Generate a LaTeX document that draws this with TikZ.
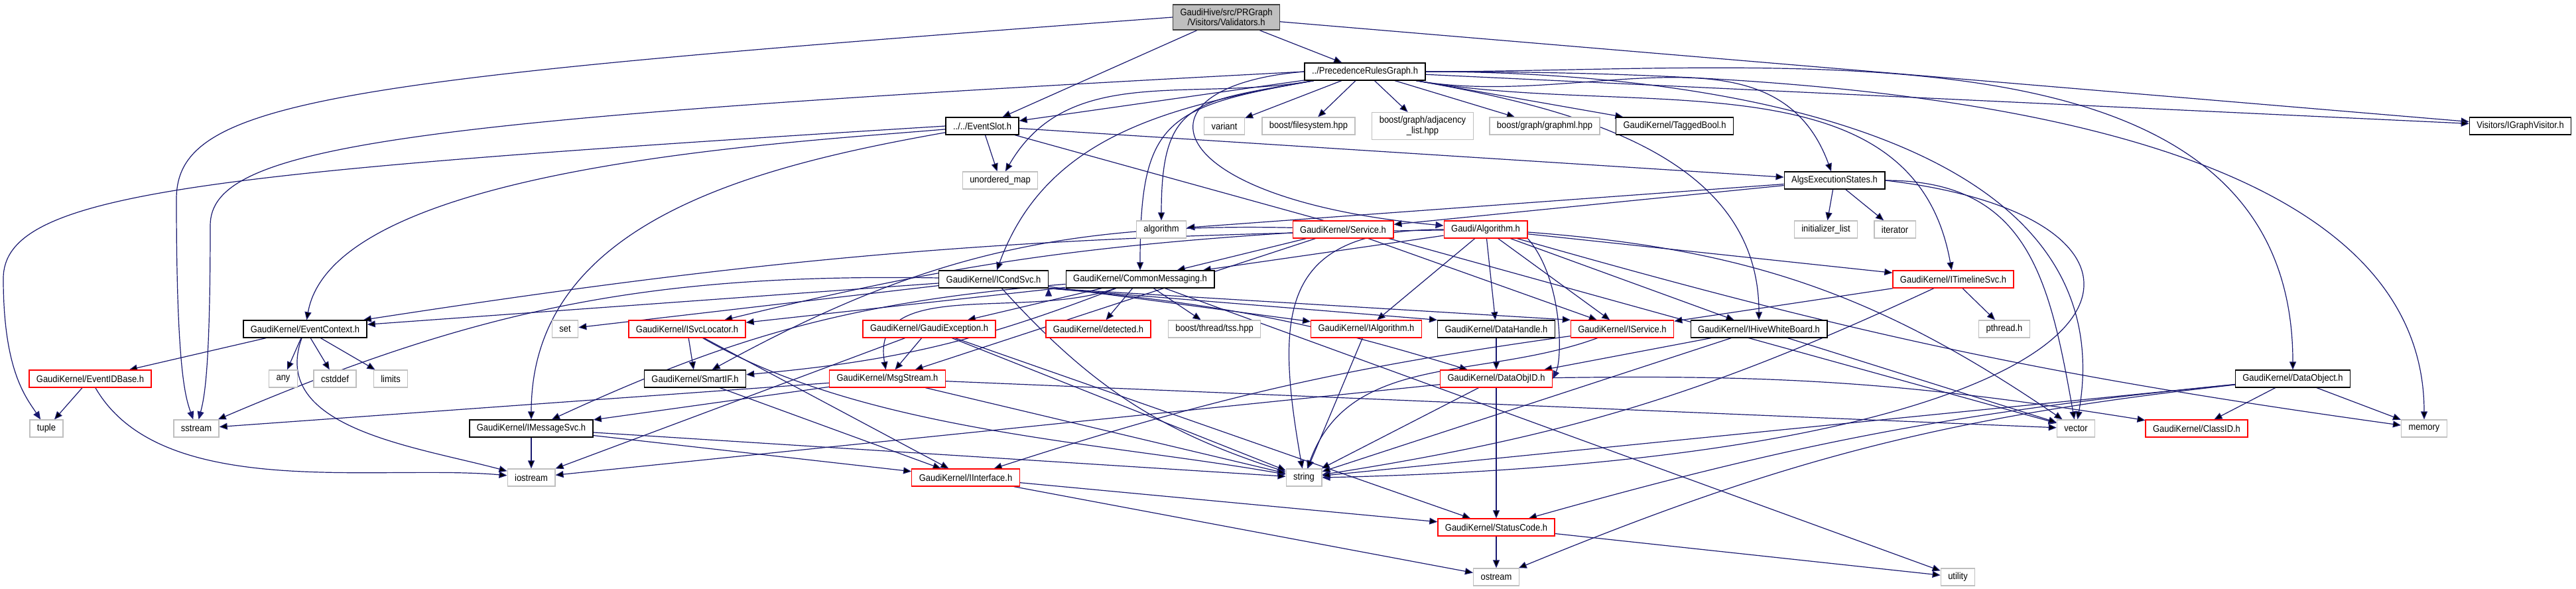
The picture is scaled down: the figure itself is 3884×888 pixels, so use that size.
\documentclass[tikz,border=0pt]{standalone}
\usepackage{fontspec}
\newfontfamily\dotfont[FakeStretch=0.9]{Liberation Sans}
\usetikzlibrary{arrows.meta,backgrounds}
\definecolor{depblue}{HTML}{191970}
\definecolor{sysgray}{HTML}{BFBFBF}

\begin{document}
\begin{tikzpicture}[x=0.5pt, y=0.5pt,
		hdr/.style={rectangle, draw, fill=white, line width=0.65pt, minimum height=13pt, inner xsep=5.5pt, inner ysep=1pt, align=center, font=\dotfont\fontsize{7.2}{7.8}\selectfont},
		doc/.style={hdr, draw=black},
		trunc/.style={hdr, draw=red},
		sys/.style={hdr, draw=sysgray},
		dep/.style={draw=depblue, line width=0.6pt, -{Triangle[length=6pt,width=5pt]}}]
	\useasboundingbox (0,0) rectangle (3884,-888);
	\node (val)[doc, fill=sysgray, draw=black!75, inner ysep=3pt] at (1849,-26) {GaudiHive/src/PRGraph\\/Visitors/Validators.h};
	\node (prg)[doc] at (2058,-108) {../PrecedenceRulesGraph.h};
	\node (evslot)[doc] at (1481,-190) {../../EventSlot.h};
	\node (variant)[sys] at (1846,-190) {variant};
	\node (bfs)[sys] at (1973,-190) {boost/filesystem.hpp};
	\node (badj)[sys, inner ysep=3pt] at (2145,-190) {boost/graph/adjacency\\\_list.hpp};
	\node (bgml)[sys] at (2329,-190) {boost/graph/graphml.hpp};
	\node (tagged)[doc] at (2525,-190) {GaudiKernel/TaggedBool.h};
	\node (igv)[doc] at (3800,-190) {Visitors/IGraphVisitor.h};
	\node (umap)[sys] at (1508,-272) {unordered\_map};
	\node (aes)[doc] at (2766,-272) {AlgsExecutionStates.h};
	\node (algo)[sys] at (1751,-346) {algorithm};
	\node (service)[trunc] at (2025,-346) {GaudiKernel/Service.h};
	\node (galg)[trunc] at (2240,-346) {Gaudi/Algorithm.h};
	\node (initl)[sys] at (2753,-346) {initializer\_list};
	\node (iter)[sys] at (2857,-346) {iterator};
	\node (condsvc)[doc] at (1498,-421) {GaudiKernel/ICondSvc.h};
	\node (cmsg)[doc] at (1719,-421) {GaudiKernel/CommonMessaging.h};
	\node (timeline)[trunc] at (2945,-421) {GaudiKernel/ITimelineSvc.h};
	\node (evctx)[doc] at (460,-496) {GaudiKernel/EventContext.h};
	\node (set)[sys] at (852,-496) {set};
	\node (svcloc)[trunc] at (1036,-496) {GaudiKernel/ISvcLocator.h};
	\node (gexc)[trunc] at (1401,-496) {GaudiKernel/GaudiException.h};
	\node (detected)[trunc] at (1656,-496) {GaudiKernel/detected.h};
	\node (tss)[sys] at (1831,-496) {boost/thread/tss.hpp};
	\node (ialg)[trunc] at (2060,-496) {GaudiKernel/IAlgorithm.h};
	\node (dhandle)[doc] at (2256,-496) {GaudiKernel/DataHandle.h};
	\node (iservice)[trunc] at (2446,-496) {GaudiKernel/IService.h};
	\node (hivewb)[doc] at (2652,-496) {GaudiKernel/IHiveWhiteBoard.h};
	\node (pthread)[sys] at (3022,-496) {pthread.h};
	\node (evid)[trunc] at (136,-571) {GaudiKernel/EventIDBase.h};
	\node (any)[sys] at (427,-571) {any};
	\node (cstddef)[sys] at (505,-571) {cstddef};
	\node (limits)[sys] at (589,-571) {limits};
	\node (smartif)[doc] at (1048,-571) {GaudiKernel/SmartIF.h};
	\node (msgstream)[trunc] at (1338,-571) {GaudiKernel/MsgStream.h};
	\node (dobjid)[trunc] at (2256,-571) {GaudiKernel/DataObjID.h};
	\node (dobj)[doc] at (3457,-571) {GaudiKernel/DataObject.h};
	\node (tuple)[sys] at (70,-646) {tuple};
	\node (sstream)[sys] at (296,-646) {sstream};
	\node (imsgsvc)[doc] at (801,-646) {GaudiKernel/IMessageSvc.h};
	\node (vector)[sys] at (3130,-646) {vector};
	\node (classid)[trunc] at (3312,-646) {GaudiKernel/ClassID.h};
	\node (memory)[sys] at (3655,-646) {memory};
	\node (iostream)[sys] at (801,-720) {iostream};
	\node (iintf)[trunc] at (1456,-720) {GaudiKernel/IInterface.h};
	\node (string)[sys] at (1966,-720) {string};
	\node (status)[trunc] at (2256,-795) {GaudiKernel/StatusCode.h};
	\node (ostream)[sys] at (2256,-870) {ostream};
	\node (utility)[sys] at (2952,-870) {utility};
	\begin{scope}[on background layer]
	\fill [white] (0,0) rectangle (3884,-888);
	\draw [dep] (val) edge (prg) edge (evslot) edge (igv);
	\draw [dep] (val.west) .. controls (500,-120) and (266,-150) .. (266,-300) .. controls (266,-560) and (280,-600) .. (sstream);
	\draw [dep] (prg) edge (evslot) edge (igv) edge (variant) edge (bfs) edge (badj) edge (bgml) edge (tagged)
		edge [out=190, in=60] (umap) edge [out=190, in=90, looseness=1.5] (algo) edge [out=190, in=90, looseness=1.5] (cmsg)
		edge [out=190, in=70] (condsvc) edge [out=-10, in=110] (aes) edge [out=-10, in=100] (timeline)
		edge [out=-10, in=90] (hivewb) edge [out=0, in=90] (dobj) edge [out=0, in=90, looseness=0.8] (memory)
		edge [out=0, in=80] (vector);
	\draw [dep] (prg.west) .. controls (600,-180) and (317,-220) .. (317,-340) .. controls (317,-560) and (308,-600) .. (sstream);
	\draw [dep] (prg.west) .. controls (1700,-130) and (1740,-300) .. (galg);
	\draw [dep] (evslot) edge (aes) edge (umap) edge (vector) edge [out=185, in=80, looseness=0.6] (evctx)
		edge [out=190, in=90] (imsgsvc);
	\draw [dep] (evslot.west) .. controls (300,-260) and (5,-290) .. (5,-420) .. controls (5,-560) and (40,-600) .. (tuple);
	\draw [dep] (aes) edge (initl) edge (iter) edge (algo) edge (service) edge [out=0, in=100, looseness=1.2] (vector);
	\draw [dep] (aes.east) .. controls (3350,-330) and (3300,-690) .. (string.east);
	\draw [dep] (service) edge (cmsg) edge (iservice) edge [bend right=5] (svcloc) edge [bend right=15] (smartif) edge (msgstream);
	\draw [dep] (galg) edge (cmsg) edge (ialg) edge (dhandle) edge (iservice) edge (hivewb) edge (timeline)
		edge [bend right=4] (memory) edge [bend left=15] (vector) edge [bend right=4] (evctx) edge [out=180, in=100, looseness=1.5] (string);
	\draw [dep] (galg.south east) .. controls (2356,-420) and (2356,-540) .. (dobjid.east);
	\draw [dep] (timeline) edge (iservice) edge (pthread) edge [bend left=8] (string);
	\draw [dep] (cmsg) edge (gexc) edge [bend right=10] (imsgsvc) edge (svcloc) edge [out=200, in=100] (msgstream)
		edge [bend left=8] (smartif) edge (detected) edge (tss) edge (utility);
	\draw [dep] (condsvc) edge (evctx) edge (set) edge [bend right=12] (sstream) edge (ialg) edge [bend right=15] (string);
	\draw [dep] (condsvc.south east) edge (dhandle.north west) edge (iservice.north west) edge [bend left=6] (dobjid);
	\draw [dep] (evctx) edge (evid) edge (any) edge (cstddef) edge (limits) edge [out=-110, in=165] (iostream);
	\draw [dep] (evid) edge (tuple) edge [out=-60, in=175, looseness=0.8] (iostream);
	\draw [dep] (svcloc) edge (smartif) edge (iintf) edge [out=-30, in=170, looseness=0.8] (string);
	\draw [dep] (gexc) edge (msgstream) edge (string) edge (status) edge (iostream);
	\draw [dep] (smartif) edge (iintf);
	\draw [dep] (msgstream) edge (imsgsvc) edge (sstream) edge (string) edge (vector);
	\draw [dep] (imsgsvc) edge (iostream) edge (iintf) edge (string);
	\draw [dep] (iintf) edge (status) edge (ostream);
	\draw [dep] (ialg) edge (string);
	\draw [dep] (dhandle) edge (dobjid);
	\draw [dep] (iservice) edge [bend right=5] (iintf) edge [out=200, in=70] (string);
	\draw [dep] (hivewb) edge (dobjid) edge (string) edge (vector);
	\draw [dep] (dobjid) edge (string) edge (status) edge [bend left=5] (classid) edge (iostream);
	\draw [dep] (status) edge (ostream) edge (utility);
	\draw [dep] (dobj) edge (classid) edge (memory) edge (string) edge [bend right=5] (status) edge [bend right=8] (ostream);
	\end{scope}
\end{tikzpicture}
\end{document}
